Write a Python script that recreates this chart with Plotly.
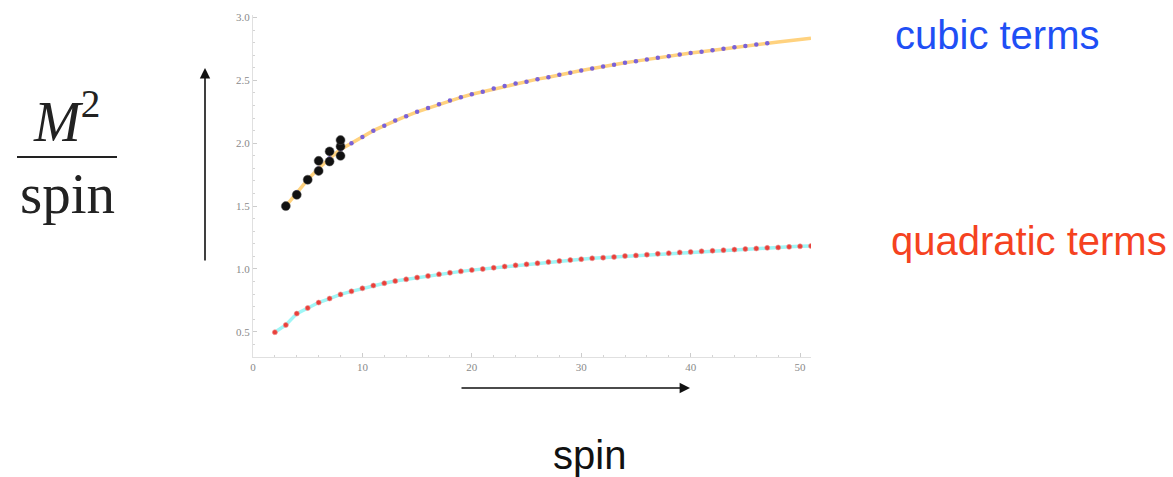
import plotly.graph_objects as go

# ---- data ----
cubic_spin = list(range(3, 52))
cubic_val = [1.50, 1.61, 1.71, 1.80, 1.88, 1.95, 2.00, 2.05, 2.10, 2.14,
             2.18, 2.215, 2.25, 2.28, 2.31, 2.34, 2.365, 2.39, 2.41, 2.435,
             2.455, 2.475, 2.49, 2.51, 2.525, 2.545, 2.56, 2.578, 2.595, 2.61,
             2.625, 2.64, 2.653, 2.667, 2.68, 2.692, 2.705, 2.717, 2.728, 2.74,
             2.752, 2.763, 2.774, 2.785, 2.795, 2.805, 2.815, 2.826, 2.836]
cubic_dot_last = 47  # purple dots drawn up to this spin

quad_spin = list(range(2, 52))
quad_val = [0.497, 0.555, 0.645, 0.69, 0.733, 0.765, 0.798, 0.822, 0.846, 0.868,
            0.887, 0.904, 0.918, 0.932, 0.945, 0.958, 0.970, 0.981, 0.991, 1.000,
            1.010, 1.020, 1.029, 1.037, 1.046, 1.056, 1.064, 1.071, 1.078, 1.085,
            1.090, 1.096, 1.103, 1.108, 1.114, 1.121, 1.126, 1.132, 1.136, 1.141,
            1.145, 1.150, 1.154, 1.159, 1.163, 1.168, 1.171, 1.176, 1.180, 1.183]

data_spin = [3, 4, 5, 6, 6, 7, 7, 8, 8, 8]
data_val = [1.50, 1.59, 1.71, 1.78, 1.86, 1.855, 1.935, 1.90, 1.975, 2.025]

x_ticks = [0, 10, 20, 30, 40, 50]
y_ticks = [0.5, 1.0, 1.5, 2.0, 2.5, 3.0]

W, H = 1173, 477
L, R, T, B = 253, 811, 15, 357

def px(xp, yp):
    return (xp - L) / (R - L), (B - yp) / (B - T)

fig = go.Figure()

n_dots = cubic_spin.index(cubic_dot_last) + 1

fig.add_trace(go.Scatter(x=cubic_spin, y=cubic_val, mode="lines",
                         line=dict(color="#ffd27f", width=3.5), hoverinfo="skip"))
fig.add_trace(go.Scatter(x=cubic_spin[:n_dots], y=cubic_val[:n_dots], mode="markers",
                         marker=dict(color="#7a62d8", size=4.5, line=dict(width=0))))
fig.add_trace(go.Scatter(x=quad_spin, y=quad_val, mode="lines",
                         line=dict(color="#9ff6f6", width=3.5), hoverinfo="skip"))
fig.add_trace(go.Scatter(x=quad_spin, y=quad_val, mode="markers",
                         marker=dict(color="#e8403a", size=5,
                                     line=dict(color="rgba(240,150,150,0.6)", width=1))))
fig.add_trace(go.Scatter(x=data_spin, y=data_val, mode="markers",
                         marker=dict(color="#111111", size=9,
                                     line=dict(color="rgba(80,80,80,0.5)", width=1))))

axis_common = dict(
    showgrid=False, zeroline=False, showline=True, linecolor="#e0e0e0", linewidth=1,
    ticks="inside", ticklen=4, tickcolor="#cccccc", tickwidth=1,
    tickfont=dict(family="Liberation Serif", size=11, color="#8a8a8a"),
)
fig.update_xaxes(range=[0, 51], tickvals=x_ticks, ticktext=[str(v) for v in x_ticks],
                 minor=dict(dtick=2, ticks="inside", ticklen=2, tickcolor="#d4d4d4"),
                 **axis_common)
fig.update_yaxes(range=[0.3, 3.02], tickvals=y_ticks, ticktext=[f"{v:.1f}" for v in y_ticks],
                 minor=dict(dtick=0.1, ticks="inside", ticklen=2, tickcolor="#d4d4d4"),
                 **axis_common)

ann = []
def text(xp, yp, s, size, color, family="Liberation Sans"):
    x, y = px(xp, yp)
    ann.append(dict(x=x, y=y, xref="paper", yref="paper", text=s, showarrow=False,
                    font=dict(family=family, size=size, color=color),
                    xanchor="center", yanchor="middle"))

text(997, 35, "cubic terms", 40, "#1f4ff5")
text(1029, 241, "quadratic terms", 40, "#f5421f")
text(589, 455, "spin", 40, "#111111")
text(66, 117, "<i>M</i><sup>2</sup>", 56, "#222222", "Liberation Serif")
text(67, 193, "spin", 57, "#222222", "Liberation Serif")

# arrows
ax_, ay_ = px(205, 68)
ann.append(dict(x=ax_, y=ay_, xref="paper", yref="paper", text="", showarrow=True,
                ax=0, ay=194, arrowhead=2, arrowsize=1.3, arrowwidth=1.6, arrowcolor="#111111"))
hx, hy = px(690, 388)
ann.append(dict(x=hx, y=hy, xref="paper", yref="paper", text="", showarrow=True,
                ax=-230, ay=0, arrowhead=2, arrowsize=1.3, arrowwidth=1.6, arrowcolor="#111111"))
fig.update_layout(annotations=ann)

# fraction bar
fx0, fy = px(17, 157)
fx1, _ = px(117, 157)
fig.add_shape(type="line", xref="paper", yref="paper", x0=fx0, x1=fx1, y0=fy, y1=fy,
              line=dict(color="#222222", width=2))

fig.update_layout(width=W, height=H, showlegend=False,
                  margin=dict(l=L, r=W - R, t=T, b=H - B),
                  plot_bgcolor="white", paper_bgcolor="white")

fig.write_html("out.html", config={"displayModeBar": False})

# remove default page margin so the figure sits at the window's top-left
with open("out.html", "r", encoding="utf-8") as f:
    html = f.read()
html = html.replace("<head>", "<head><style>html,body{margin:0;padding:0;overflow:hidden;}</style>", 1)
with open("out.html", "w", encoding="utf-8") as f:
    f.write(html)
